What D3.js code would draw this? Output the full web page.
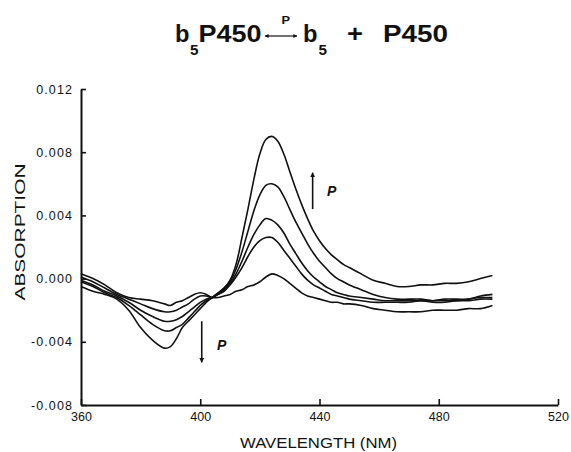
<!DOCTYPE html>
<html><head><meta charset="utf-8">
<script src="https://cdn.jsdelivr.net/npm/d3@7"></script>
<style>
html,body{margin:0;padding:0;background:#fff;}
svg{display:block;}
</style></head>
<body>
<svg id="chart" width="571" height="452"></svg>
<script>
// ---- data ----
const wavelengths = [360,364,368,372,376,380,384,388,390,392,394,396,398,400,402,404,406,408,410,412,414,416,418,420,422,424,426,428,430,432,434,436,438,440,442,444,446,448,450,454,458,462,466,470,474,478,482,486,490,494,498];
const curve1 = [-0.0005,-0.0008,-0.0010,-0.0013,-0.0020,-0.0031,-0.0039,-0.0044,-0.0043,-0.0038,-0.0031,-0.0027,-0.0023,-0.0019,-0.0015,-0.0012,-0.0009,-0.0006,-0.0001,0.0009,0.0026,0.0044,0.0063,0.0079,0.0088,0.0090,0.0087,0.0079,0.0068,0.0057,0.0047,0.0038,0.0030,0.0024,0.0019,0.0015,0.0012,0.0009,0.0007,0.0003,-0.0001,-0.0003,-0.0005,-0.0005,-0.0004,-0.0004,-0.0003,-0.0003,-0.0002,0.0000,0.0002];
const curve2 = [-0.0002,-0.0005,-0.0009,-0.0012,-0.0017,-0.0023,-0.0029,-0.0033,-0.0033,-0.0031,-0.0029,-0.0025,-0.0021,-0.0017,-0.0014,-0.0012,-0.0009,-0.0006,-0.0002,0.0006,0.0017,0.0030,0.0043,0.0053,0.0059,0.0060,0.0058,0.0052,0.0044,0.0036,0.0029,0.0022,0.0016,0.0011,0.0007,0.0003,0.0000,-0.0002,-0.0004,-0.0007,-0.0010,-0.0012,-0.0013,-0.0013,-0.0013,-0.0014,-0.0013,-0.0013,-0.0013,-0.0011,-0.0010];
const curve3 = [-0.0001,-0.0004,-0.0008,-0.0011,-0.0015,-0.0020,-0.0024,-0.0027,-0.0027,-0.0026,-0.0024,-0.0021,-0.0018,-0.0015,-0.0013,-0.0012,-0.0010,-0.0007,-0.0003,0.0003,0.0011,0.0020,0.0028,0.0034,0.0038,0.0037,0.0034,0.0029,0.0022,0.0016,0.0010,0.0005,0.0001,-0.0002,-0.0005,-0.0007,-0.0009,-0.0010,-0.0011,-0.0012,-0.0013,-0.0014,-0.0014,-0.0014,-0.0014,-0.0014,-0.0014,-0.0014,-0.0013,-0.0012,-0.0012];
const curve4 = [0.0001,-0.0002,-0.0006,-0.0010,-0.0013,-0.0016,-0.0019,-0.0021,-0.0021,-0.0020,-0.0018,-0.0016,-0.0013,-0.0011,-0.0011,-0.0012,-0.0010,-0.0008,-0.0004,0.0001,0.0007,0.0014,0.0020,0.0024,0.0026,0.0026,0.0023,0.0018,0.0013,0.0008,0.0003,-0.0001,-0.0004,-0.0006,-0.0008,-0.0010,-0.0011,-0.0012,-0.0013,-0.0014,-0.0015,-0.0015,-0.0015,-0.0015,-0.0014,-0.0015,-0.0015,-0.0014,-0.0014,-0.0013,-0.0013];
const curve5 = [0.0003,0.0000,-0.0004,-0.0009,-0.0012,-0.0013,-0.0014,-0.0016,-0.0017,-0.0015,-0.0014,-0.0012,-0.0010,-0.0009,-0.0010,-0.0012,-0.0012,-0.0011,-0.0010,-0.0008,-0.0007,-0.0005,-0.0004,-0.0002,0.0001,0.0003,0.0002,0.0000,-0.0003,-0.0006,-0.0009,-0.0011,-0.0012,-0.0013,-0.0014,-0.0015,-0.0015,-0.0016,-0.0016,-0.0017,-0.0019,-0.0020,-0.0021,-0.0021,-0.0021,-0.0020,-0.0020,-0.0020,-0.0019,-0.0019,-0.0017];
const xTicks = [360,400,440,480,520];
const xTickLabels = ["360","400","440","480","520"];
const yTicks = [-0.008,-0.004,0.000,0.004,0.008,0.012];
const yTickLabels = ["-0.008","-0.004","0.000","0.004","0.008","0.012"];
const xLabel = "WAVELENGTH (NM)";
const yLabel = "ABSORPTION";
const arrowUp = {wl:437.7, from:0.0044, to:0.0067, label:"P", labelWl:442.5, labelVal:0.0052};
const arrowDown = {wl:400.5, from:-0.0027, to:-0.0053, label:"P", labelWl:405.6, labelVal:-0.0045};

// ---- drawing ----
const svg = d3.select("#chart");
const x = d3.scaleLinear().domain([360,520]).range([81,558]);
const y = d3.scaleLinear().domain([-0.008,0.012]).range([405,89]);
const FONT = "'Liberation Sans', Arial, Helvetica, sans-serif";

const defs = svg.append("defs");
defs.append("marker").attr("id","ah").attr("markerUnits","userSpaceOnUse")
  .attr("viewBox","0 0 10 10").attr("refX",9).attr("refY",5)
  .attr("markerWidth",5).attr("markerHeight",9).attr("orient","auto")
  .append("path").attr("d","M0,0L10,5L0,10Z").attr("fill","#111");
defs.append("marker").attr("id","ahs").attr("markerUnits","userSpaceOnUse")
  .attr("viewBox","0 0 10 10").attr("refX",9).attr("refY",5)
  .attr("markerWidth",5).attr("markerHeight",4).attr("orient","auto-start-reverse")
  .append("path").attr("d","M0,0L10,5L0,10Z").attr("fill","#111");

// axes
const yAxis = d3.axisLeft(y).tickValues(yTicks)
  .tickFormat((d,i)=>yTickLabels[i]).tickSizeInner(-5).tickSizeOuter(0).tickPadding(8);
const gy = svg.append("g").attr("transform",`translate(${x(360)},0)`).call(yAxis);
const xAxis = d3.axisBottom(x).tickValues(xTicks)
  .tickFormat((d,i)=>xTickLabels[i]).tickSizeInner(-6).tickSizeOuter(0).tickPadding(7);
const gx = svg.append("g").attr("transform",`translate(0,${y(-0.008)})`).call(xAxis);
[gx,gy].forEach(g=>{
  g.select(".domain").attr("stroke","#111").attr("stroke-width",2);
  g.selectAll(".tick line").attr("stroke","#111").attr("stroke-width",1.6);
  g.selectAll("text").attr("font-family",FONT).attr("font-size",12.5).attr("fill","#111");
});
gy.selectAll("text").attr("letter-spacing",1.1);

// curves
const line = d3.line().x(d=>x(d[0])).y(d=>y(d[1])).curve(d3.curveCatmullRom.alpha(0.5));
const series = [curve1,curve2,curve3,curve4,curve5];
svg.append("g").selectAll("path").data(series).join("path")
  .attr("d",s=>line(wavelengths.map((w,i)=>[w,s[i]])))
  .attr("fill","none").attr("stroke","#111").attr("stroke-width",1.6)
  .attr("stroke-linejoin","round");

// annotation arrows
[arrowUp,arrowDown].forEach(a=>{
  svg.append("line").attr("x1",x(a.wl)).attr("x2",x(a.wl))
    .attr("y1",y(a.from)).attr("y2",y(a.to))
    .attr("stroke","#111").attr("stroke-width",1.6).attr("marker-end","url(#ah)");
  svg.append("text").attr("x",x(a.labelWl)).attr("y",y(a.labelVal))
    .attr("font-family",FONT).attr("font-weight","bold").attr("font-style","italic")
    .attr("font-size",14).attr("fill","#111").text(a.label);
});

// axis labels
svg.append("text").attr("x",318.5).attr("y",447.5).attr("text-anchor","middle")
  .attr("font-family",FONT).attr("font-size",14.5).attr("fill","#111")
  .attr("textLength",157).attr("lengthAdjust","spacingAndGlyphs").text(xLabel);
svg.append("text").attr("transform","translate(25,232) rotate(-90)").attr("text-anchor","middle")
  .attr("font-family",FONT).attr("font-size",15).attr("fill","#111")
  .attr("textLength",137).attr("lengthAdjust","spacingAndGlyphs").text(yLabel);

// title: b5P450 <-P-> b5 + P450
const t = svg.append("g").attr("font-family",FONT).attr("font-weight","bold").attr("fill","#111");
function tx(str,px,py,size,len){
  const e = t.append("text").attr("x",px).attr("y",py).attr("font-size",size).text(str);
  if(len) e.attr("textLength",len).attr("lengthAdjust","spacingAndGlyphs");
  return e;
}
tx("b",175,42,23,14.5);
tx("5",190,55,15,8.5);
tx("P450",198.5,42,23,63);
tx("P",281.5,24,11,8.5);
tx("b",303,42,23,14.5);
tx("5",318.5,55,15,8.5);
tx("+",347,42,23,16);
tx("P450",383,42,23,65);
svg.append("line").attr("x1",265).attr("x2",297).attr("y1",36).attr("y2",36)
  .attr("stroke","#111").attr("stroke-width",1.2)
  .attr("marker-start","url(#ahs)").attr("marker-end","url(#ahs)");
</script>
</body></html>
